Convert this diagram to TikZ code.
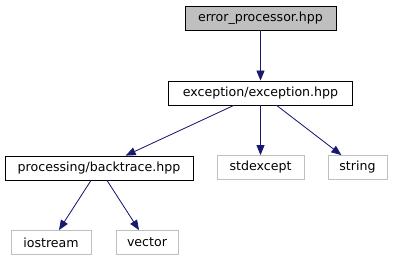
\documentclass[tikz,border=0pt]{standalone}
\usepackage{fontspec}
\setmainfont{DejaVu Sans}
\usepackage{xcolor}
\usepackage{tikz}
\usetikzlibrary{arrows.meta}

\definecolor{edgeblue}{HTML}{191970}
\definecolor{extgray}{HTML}{BFBFBF}

\begin{document}
\begin{tikzpicture}[
  x=1pt, y=-1pt,
  file/.style={rectangle, draw=black, line width=0.8pt, minimum height=24pt, inner sep=0pt, font=\fontsize{12.6}{14}\selectfont},
  current/.style={file, fill=extgray},
  sysfile/.style={file, draw=extgray},
  arrow/.style={-{Triangle[length=10pt, width=8pt]}, draw=edgeblue, fill=edgeblue, line width=0.8pt}
]
\useasboundingbox (0,0) rectangle (393,261);
\node[current, minimum width=151pt] (errproc) at (260.5,18) {error\_processor.hpp};
\node[file, minimum width=184pt] (exception) at (260.5,93) {exception/exception.hpp};
\node[file, minimum width=188pt] (backtrace) at (99,168) {processing/backtrace.hpp};
\node[sysfile, minimum width=87pt] (stdexcept) at (260.5,167.5) {stdexcept};
\node[sysfile, minimum width=59pt] (string) at (357.5,167.5) {string};
\node[sysfile, minimum width=80pt] (iostream) at (51,242.5) {iostream};
\node[sysfile, minimum width=62pt] (vector) at (147,242.5) {vector};
\draw[arrow] (errproc) -- (exception);
\draw[arrow] (exception) -- (backtrace);
\draw[arrow] (exception) -- (stdexcept);
\draw[arrow] (exception) -- (string);
\draw[arrow] (backtrace) -- (iostream);
\draw[arrow] (backtrace) -- (vector);
\end{tikzpicture}
\end{document}
